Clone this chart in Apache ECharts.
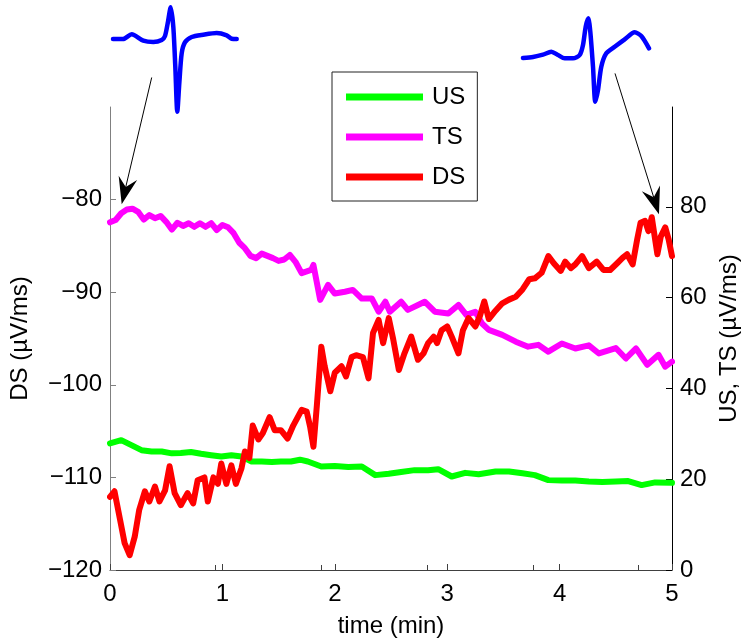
<!DOCTYPE html>
<html><head><meta charset="utf-8">
<script src="https://cdn.jsdelivr.net/npm/echarts@6/dist/echarts.min.js"></script>
<style>html,body{margin:0;padding:0;background:#fff}#c{width:742px;height:644px}</style>
</head><body><div id="c"></div>
<script>
// ---- data ----
const usT = [0, 0.1, 0.19, 0.28, 0.37, 0.46, 0.55, 0.63, 0.72, 0.81, 0.9, 0.99, 1.08, 1.17, 1.26, 1.35, 1.44, 1.52, 1.61, 1.69, 1.76, 1.88, 2.0, 2.12, 2.24, 2.36, 2.48, 2.59, 2.71, 2.83, 2.92, 3.04, 3.16, 3.28, 3.43, 3.55, 3.67, 3.78, 3.9, 4.02, 4.14, 4.26, 4.38, 4.5, 4.61, 4.73, 4.85, 5.0];
const usV = [27.9, 28.6, 27.5, 26.4, 26.1, 26.1, 25.7, 25.8, 26.0, 25.6, 25.3, 25.0, 25.3, 25.0, 23.9, 23.9, 23.8, 23.9, 23.9, 24.3, 23.9, 22.8, 22.9, 22.7, 22.8, 20.9, 21.2, 21.6, 22.0, 22.0, 22.2, 20.6, 21.4, 21.1, 21.7, 21.7, 21.3, 20.9, 19.8, 19.7, 19.7, 19.5, 19.4, 19.5, 19.6, 18.7, 19.3, 19.2];

const tsT = [0, 0.05, 0.1, 0.15, 0.2, 0.25, 0.3, 0.35, 0.4, 0.45, 0.5, 0.55, 0.6, 0.65, 0.7, 0.75, 0.8, 0.85, 0.9, 0.95, 1.0, 1.05, 1.1, 1.15, 1.2, 1.25, 1.3, 1.35, 1.4, 1.45, 1.5, 1.55, 1.6, 1.65, 1.705, 1.79, 1.81, 1.87, 1.94, 2.0, 2.09, 2.16, 2.24, 2.33, 2.39, 2.45, 2.49, 2.59, 2.65, 2.8, 2.89, 3.01, 3.1, 3.17, 3.25, 3.31, 3.37, 3.49, 3.61, 3.72, 3.81, 3.9, 4.02, 4.14, 4.26, 4.35, 4.5, 4.59, 4.68, 4.78, 4.88, 4.94, 5.0];
const tsV = [76.6, 77.1, 78.6, 79.4, 79.6, 78.9, 77.2, 78.2, 77.5, 78.0, 76.7, 75.0, 76.5, 75.8, 76.4, 75.6, 76.4, 75.6, 76.4, 74.9, 76.0, 75.5, 74.2, 72.1, 70.9, 69.2, 68.7, 69.7, 69.2, 68.7, 68.1, 68.4, 69.4, 67.9, 65.4, 66.1, 67.2, 59.5, 62.8, 60.9, 61.3, 61.7, 59.8, 59.8, 56.9, 59.1, 56.9, 59.1, 57.3, 59.1, 56.9, 56.5, 58.4, 56.2, 56.9, 54.3, 52.9, 51.8, 50.3, 49.2, 49.6, 48.1, 49.9, 48.8, 49.5, 47.7, 48.9, 46.6, 48.8, 45.2, 47.4, 44.8, 45.9];

const dsT = [0, 0.04, 0.09, 0.13, 0.175, 0.22, 0.26, 0.31, 0.35, 0.4, 0.44, 0.49, 0.53, 0.575, 0.63, 0.69, 0.74, 0.78, 0.84, 0.87, 0.92, 0.96, 0.99, 1.035, 1.08, 1.12, 1.17, 1.2, 1.24, 1.27, 1.32, 1.36, 1.42, 1.465, 1.52, 1.58, 1.63, 1.705, 1.75, 1.78, 1.81, 1.84, 1.88, 1.91, 1.96, 2.0, 2.06, 2.1, 2.15, 2.19, 2.25, 2.3, 2.34, 2.39, 2.43, 2.48, 2.52, 2.57, 2.62, 2.68, 2.74, 2.79, 2.83, 2.88, 2.91, 2.95, 3.0, 3.04, 3.1, 3.14, 3.19, 3.25, 3.29, 3.33, 3.37, 3.43, 3.49, 3.55, 3.61, 3.67, 3.73, 3.78, 3.84, 3.9, 3.95, 4.01, 4.05, 4.1, 4.14, 4.2, 4.26, 4.33, 4.39, 4.45, 4.51, 4.56, 4.6, 4.65, 4.69, 4.72, 4.76, 4.79, 4.82, 4.87, 4.9, 4.94, 4.97, 5.0];
const dsV = [-112.1, -111.5, -114.6, -117.1, -118.4, -116.4, -113.5, -111.5, -112.6, -111.0, -112.6, -111.4, -108.8, -111.7, -113.0, -111.7, -112.8, -110.3, -110.0, -112.6, -110.0, -110.7, -108.5, -110.7, -108.7, -110.7, -109.0, -107.2, -107.9, -104.4, -105.9, -105.2, -103.5, -104.9, -104.9, -105.8, -104.4, -102.7, -102.9, -104.5, -106.7, -102.3, -95.9, -98.0, -100.7, -98.7, -98.0, -99.1, -97.0, -96.8, -97.0, -99.3, -94.4, -93.0, -95.5, -92.8, -95.1, -98.4, -96.6, -94.8, -97.3, -96.6, -95.5, -94.8, -95.5, -94.1, -93.7, -94.8, -96.6, -94.1, -92.8, -93.7, -92.6, -91.0, -92.9, -92.0, -91.2, -90.8, -90.5, -89.7, -88.6, -88.5, -87.9, -86.1, -86.9, -87.7, -86.7, -87.4, -87.0, -86.1, -87.4, -86.7, -87.6, -87.6, -86.9, -86.3, -85.9, -87.0, -84.3, -82.5, -82.3, -83.4, -81.9, -85.9, -84.0, -83.0, -84.3, -86.1];

const seriesNames = ['US', 'TS', 'DS'];
const xTicks = [0, 1, 2, 3, 4, 5];
const leftTicks = [-120, -110, -100, -90, -80];
const rightTicks = [0, 20, 40, 60, 80];

// ECG insets (sample index, amplitude in arbitrary units)
const ecgLeftX = [0, 10, 18.7, 30.3, 40.3, 48.7, 52, 54.7, 57.7, 60.3, 62.3, 64.3, 66.3, 68.7, 72, 78.7, 90.3, 103.7, 113.7, 118.7, 123.7];
const ecgLeftY = [0, 0, 4.7, -1.7, -3, -1, 3, 15.7, 31.7, 12.3, -27.7, -72.7, -44.3, -14.3, -3.3, 2, 4.3, 6, 3.7, 0.3, 0];
const ecgRightX = [0, 10, 20, 28.3, 35, 41.7, 50, 56.7, 60, 62.7, 65.3, 67.3, 70, 72.3, 75, 78.3, 83.3, 91.7, 101.7, 111.7, 118.3, 126];
const ecgRightY = [0, 1, 3.3, 6.3, 3, -0.3, -0.3, 3, 13, 31.3, 39.7, 26.3, -8.7, -43.7, -32, -8.7, 4.7, 11.3, 18.7, 25.7, 22, 9.7];

// arrows: [time, US/TS value]
const arrowTails = [[0.371, 108.5], [4.493, 109.4]];
const arrowTips = [[0.104, 80.6], [4.884, 78.4]];

// ---- chart ----
const FONT = 'Liberation Sans, Arial, sans-serif';
const pair = (xs, ys) => xs.map((x, i) => [x, ys[i]]);
const minus = v => String(v).replace('-', '\u2212');

const chart = echarts.init(document.getElementById('c'), null, {renderer: 'canvas'});
const lineSeries = (name, xs, ys, yIdx, color) => ({
  name, type: 'line', xAxisIndex: 0, yAxisIndex: yIdx, data: pair(xs, ys),
  showSymbol: false, symbol: 'none', lineStyle: {width: 6, color, join: 'round', cap: 'round'},
  itemStyle: {color}, emphasis: {disabled: true}, z: 3
});

chart.setOption({
  animation: false,
  backgroundColor: '#fff',
  textStyle: {fontFamily: FONT},
  grid: [
    {left: 110, right: 70, top: 107, bottom: 74, outerBoundsMode: 'none', containLabel: false},
    {left: 113, top: 7.3, width: 123.7, height: 104.4, outerBoundsMode: 'none'},
    {left: 523, top: 18.3, width: 126, height: 83.4, outerBoundsMode: 'none'}
  ],
  legend: {
    data: seriesNames, orient: 'vertical', left: 332, top: 72,
    padding: [13, 12, 12, 14], itemWidth: 77, itemHeight: 7, itemGap: 16,
    icon: 'rect', borderColor: '#222', borderWidth: 1, backgroundColor: '#fff',
    textStyle: {fontSize: 24, color: '#000', fontFamily: FONT, lineHeight: 24, padding: [0, 0, 0, 4]},
    selectedMode: false
  },
  xAxis: [
    {gridIndex: 0, type: 'value', min: 0, max: 5, interval: 1,
     axisLine: {show: true, onZero: false, lineStyle: {color: '#404040', width: 1}},
     axisTick: {show: true, inside: true, length: 6, customValues: xTicks, lineStyle: {color: '#404040'}},
     axisLabel: {customValues: xTicks, fontSize: 24, color: '#000', margin: 12, fontFamily: FONT},
     splitLine: {show: false},
     name: 'time (min)', nameLocation: 'middle', nameGap: 44,
     nameTextStyle: {fontSize: 24, color: '#000', fontFamily: FONT}},
    {gridIndex: 0, type: 'value', min: 0, max: 5.315, interval: 1, position: 'bottom',
     axisLine: {show: false}, axisTick: {show: true, inside: true, length: 5, lineStyle: {color: '#404040'}},
     axisLabel: {show: false}, splitLine: {show: false}},
    {gridIndex: 1, type: 'value', min: 0, max: 123.7, show: false},
    {gridIndex: 2, type: 'value', min: 0, max: 126, show: false}
  ],
  yAxis: [
    {gridIndex: 0, type: 'value', position: 'left', min: -120, max: -70,
     axisLine: {show: true, onZero: false, lineStyle: {color: '#808080', width: 1}},
     axisTick: {show: true, inside: true, length: 6, customValues: leftTicks, lineStyle: {color: '#808080'}},
     axisLabel: {customValues: leftTicks, formatter: minus, fontSize: 24, color: '#000', margin: 8, fontFamily: FONT},
     splitLine: {show: false},
     name: 'DS (\u00b5V/ms)', nameLocation: 'middle', nameGap: 78, nameRotate: 90,
     nameTextStyle: {fontSize: 24, color: '#000', fontFamily: FONT}},
    {gridIndex: 0, type: 'value', position: 'right', min: 0, max: 102,
     axisLine: {show: true, onZero: false, lineStyle: {color: '#000', width: 1}},
     axisTick: {show: true, inside: true, length: 6, customValues: rightTicks, lineStyle: {color: '#000'}},
     axisLabel: {customValues: rightTicks, fontSize: 24, color: '#000', margin: 8, fontFamily: FONT},
     splitLine: {show: false},
     name: 'US, TS (\u00b5V/ms)', nameLocation: 'middle', nameGap: 40, nameRotate: 90,
     nameTextStyle: {fontSize: 24, color: '#000', fontFamily: FONT}},
    {gridIndex: 1, type: 'value', min: -72.7, max: 31.7, show: false},
    {gridIndex: 2, type: 'value', min: -43.7, max: 39.7, show: false}
  ],
  series: [
    lineSeries('US', usT, usV, 1, '#00ff00'),
    lineSeries('TS', tsT, tsV, 1, '#ff00ff'),
    lineSeries('DS', dsT, dsV, 0, '#ff0000'),
    {type: 'line', xAxisIndex: 2, yAxisIndex: 2, data: pair(ecgLeftX, ecgLeftY), showSymbol: false, symbol: 'none',
     smooth: 0.25, clip: false, lineStyle: {width: 4.5, color: '#0000ff', join: 'round', cap: 'round'}, emphasis: {disabled: true}},
    {type: 'line', xAxisIndex: 3, yAxisIndex: 3, data: pair(ecgRightX, ecgRightY), showSymbol: false, symbol: 'none',
     smooth: 0.25, clip: false, lineStyle: {width: 4.5, color: '#0000ff', join: 'round', cap: 'round'}, emphasis: {disabled: true}}
  ]
});

// arrows computed from data coordinates
const graphics = [];
arrowTails.forEach((tail, i) => {
  const p0 = chart.convertToPixel({xAxisIndex: 0, yAxisIndex: 1}, tail);
  const p1 = chart.convertToPixel({xAxisIndex: 0, yAxisIndex: 1}, arrowTips[i]);
  const dx = p1[0] - p0[0], dy = p1[1] - p0[1];
  const len = Math.hypot(dx, dy);
  const ux = dx / len, uy = dy / len, nx = -uy, ny = ux;
  const L = 27, W = 19;
  const bx = p1[0] - ux * L, by = p1[1] - uy * L;
  const notchX = p1[0] - ux * L * 0.65, notchY = p1[1] - uy * L * 0.65;
  graphics.push({type: 'line', shape: {x1: p0[0], y1: p0[1], x2: notchX, y2: notchY},
                 style: {stroke: '#000', lineWidth: 1}, z: 10});
  graphics.push({type: 'polygon', shape: {points: [
    [p1[0], p1[1]], [bx + nx * W / 2, by + ny * W / 2], [notchX, notchY], [bx - nx * W / 2, by - ny * W / 2]
  ]}, style: {fill: '#000'}, z: 10});
});
chart.setOption({graphic: graphics});
</script>
</body></html>
